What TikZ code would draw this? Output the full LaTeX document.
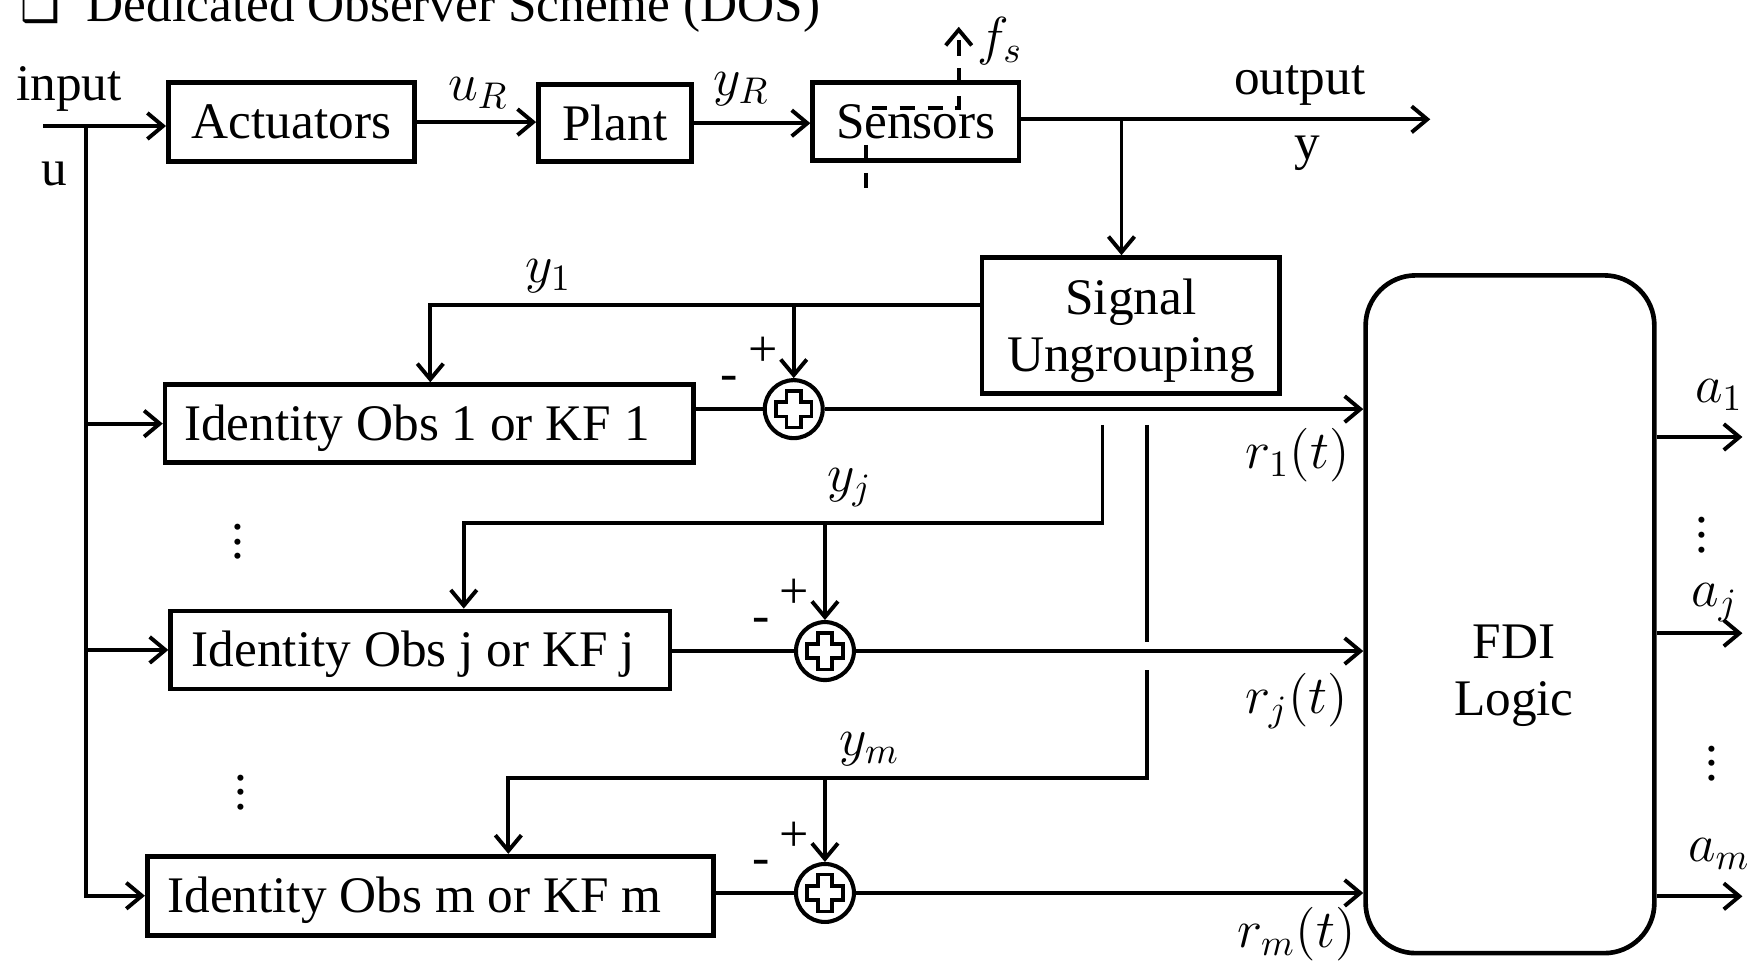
\documentclass[tikz,border=0pt]{standalone}
\usepackage{fontspec}
\setmainfont{Liberation Serif}
\newfontfamily\symfont{DejaVu Sans}
\usetikzlibrary{arrows.meta,backgrounds,calc}
\newcommand\fs{\fontsize{13.8}{15.3}\selectfont}
\newcommand\sumcross[1]{\draw[line width=1pt, fill=white, shift={(#1)}] (-6.5,-16.5) -- (6.5,-16.5) -- (6.5,-6.5) -- (16,-6.5) -- (16,6.5) -- (6.5,6.5) -- (6.5,16.5) -- (-6.5,16.5) -- (-6.5,6.5) -- (-16,6.5) -- (-16,-6.5) -- (-6.5,-6.5) -- cycle;}
\tikzset{
  box/.style={draw, line width=1.25pt, inner sep=0pt, align=center, font=\fs},
  obsbox/.style={box, inner xsep=#1*0.3pt, anchor=west},
  ln/.style={line width=1.05pt},
  arr/.style={ln, -{Straight Barb[length=4.2pt,width=7pt]}},
  sumnode/.style={circle, draw, line width=1.1pt, minimum size=15.6pt, inner sep=0pt},
  lbl/.style={font=\fs, inner sep=0pt},
  pm/.style={font=\fontsize{14}{15}\selectfont, inner sep=0pt},
  fault/.style={ln, dash pattern=on 4.2pt off 3.3pt},
}
\begin{document}
\begin{tikzpicture}[x=0.3pt, y=-0.3pt]
\useasboundingbox (0,0) rectangle (1568,863);
% top row
\node[box, minimum width=221*0.3pt, minimum height=71*0.3pt] (act) at (261.5,109.5) {Actuators};
\node[box, minimum width=137*0.3pt, minimum height=69*0.3pt] (plant) at (551.5,110.5) {Plant};
\node[box, minimum width=185*0.3pt, minimum height=70*0.3pt] (sens) at (821.5,109) {Sensors};
\node[box, minimum width=267*0.3pt, minimum height=122*0.3pt] (sig) at (1014.5,292) {\rule{0pt}{12.6pt}Signal\\Ungrouping};
% observers
\node[obsbox=17, minimum height=70*0.3pt] (obs1) at (146,380) {\makebox[132pt][l]{\rule{0pt}{11.8pt}Identity Obs 1 or KF 1}};
\node[obsbox=19, minimum height=70*0.3pt] (obsj) at (151,583) {\makebox[123pt][l]{\rule{0pt}{11.8pt}Identity Obs j or KF j}};
\node[obsbox=18, minimum height=71*0.3pt] (obsm) at (130,803.5) {\makebox[141.6pt][l]{\rule{0pt}{11.8pt}Identity Obs m or KF m}};
% FDI
\node[draw, line width=1.25pt, rounded corners=13.5pt, minimum width=259*0.3pt, minimum height=608*0.3pt] (fdi) at (1354.5,551) {};
\node[lbl, align=center] (fdit) at (1358,606) {FDI\\Logic};
% sums
\node[sumnode] (s1) at (712,367) {};
\node[sumnode] (sj) at (740,584) {};
\node[sumnode] (sm) at (740,801) {};
% coordinates
\coordinate (in0) at (39,113);
\coordinate (bus) at (77,113);
\coordinate (oe) at (1283,107);
\coordinate (br) at (1006,107);
\coordinate (y1c) at (386,273.5);
\coordinate (yj0) at (989,381);
\coordinate (yjc) at (416,469);
\coordinate (ym0) at (1029,381);
\coordinate (ymg1) at (1029,576);
\coordinate (ymg2) at (1029,601);
\coordinate (ymc) at (456,698);
\coordinate (a1e) at (1563,392);
\coordinate (aje) at (1563,568);
\coordinate (ame) at (1563,804);
\coordinate (fh0) at (782,97);
\coordinate (fhc) at (860,97);
\coordinate (fs) at (860,24);
\coordinate (fl0) at (777,130);
\coordinate (fl1) at (777,170);
\begin{pgfonlayer}{background}
\fill[white] (0,0) rectangle (1568,863);
\draw[arr] (in0) -- (in0 -| act.west);
\draw[arr] (act.east) -- (act.east -| plant.west);
\draw[arr] (plant.east) -- (plant.east -| sens.west);
\draw[arr] (sens.east |- oe) -- (oe);
\draw[arr] (br) -- (br |- sig.north);
\draw[arr] (bus) -- (bus |- obsm) -- (obsm.west);
\draw[arr] (bus |- obs1) -- (obs1.west);
\draw[arr] (bus |- obsj) -- (obsj.west);
\draw[arr] (sig.west |- y1c) -- (y1c) -- (y1c |- obs1.north);
\draw[arr] (s1 |- y1c) -- (s1.north);
\draw[arr] (yj0) -- (yj0 |- yjc) -- (yjc) -- (yjc |- obsj.north);
\draw[arr] (sj |- yjc) -- (sj.north);
\draw[ln] (ym0) -- (ymg1);
\draw[arr] (ymg2) -- (ymg2 |- ymc) -- (ymc) -- (ymc |- obsm.north);
\draw[arr] (sm |- ymc) -- (sm.north);
\draw[ln] (obs1.east |- s1) -- (s1);
\draw[arr] (s1) -- (s1 -| fdi.west);
\draw[ln] (obsj.east |- sj) -- (sj);
\draw[arr] (sj) -- (sj -| fdi.west);
\draw[ln] (obsm.east |- sm) -- (sm);
\draw[arr] (sm) -- (sm -| fdi.west);
\draw[arr] (a1e -| fdi.east) -- (a1e);
\draw[arr] (aje -| fdi.east) -- (aje);
\draw[arr] (ame -| fdi.east) -- (ame);
\end{pgfonlayer}
\sumcross{s1}
\sumcross{sj}
\sumcross{sm}
% fault injection marks
\draw[fault, -{Straight Barb[length=4.2pt,width=7pt]}] (fh0) -- (fhc) -- (fs);
\draw[fault] (fl0) -- (fl1);
% labels
\node[lbl, anchor=base west] (title) at (18,19) {{\symfont\fontsize{12}{13}\selectfont ❑}\hspace{7pt}Dedicated Observer Scheme (DOS)};
\node[lbl, anchor=base] (linput) at (62,90) {input};
\node[lbl, anchor=base] (lu) at (49,166) {u};
\node[lbl, anchor=base] (luR) at (429,90) {$u_R$};
\node[lbl, anchor=base] (lyR) at (665,86) {$y_R$};
\node[lbl] (lfs) at (897,37) {$f_s$};
\node[lbl, anchor=base] (lout) at (1166,85) {output};
\node[lbl, anchor=base] (ly) at (1173,143) {y};
\node[lbl, anchor=base] (ly1) at (492,253) {$y_1$};
\node[lbl, anchor=base] (lyj) at (762,441) {$y_j$};
\node[lbl, anchor=base] (lym) at (780,678) {$y_m$};
\node[lbl, anchor=base] (lr1) at (1164,420) {$r_1(t)$};
\node[lbl, anchor=base] (lrj) at (1163,640) {$r_j(t)$};
\node[lbl, anchor=base] (lrm) at (1163,850) {$r_m(t)$};
\node[lbl, anchor=base] (la1) at (1542,361) {$a_1$};
\node[lbl, anchor=base] (laj) at (1538,544) {$a_j$};
\node[lbl, anchor=base] (lam) at (1542,773) {$a_m$};
\node[pm] (p1) at (685,316) {+};
\node[pm] (m1) at (654,344) {-};
\node[pm] (pj) at (712,533) {+};
\node[pm] (mj) at (683,561) {-};
\node[pm] (pmm) at (712,751) {+};
\node[pm] (mm) at (683,778) {-};
\node[lbl] (d1) at (213,476) {$\vdots$};
\node[lbl] (d2) at (216,701) {$\vdots$};
\node[lbl] (d3) at (1527,470) {$\vdots$};
\node[lbl] (d4) at (1536,675) {$\vdots$};
\end{tikzpicture}
\end{document}
